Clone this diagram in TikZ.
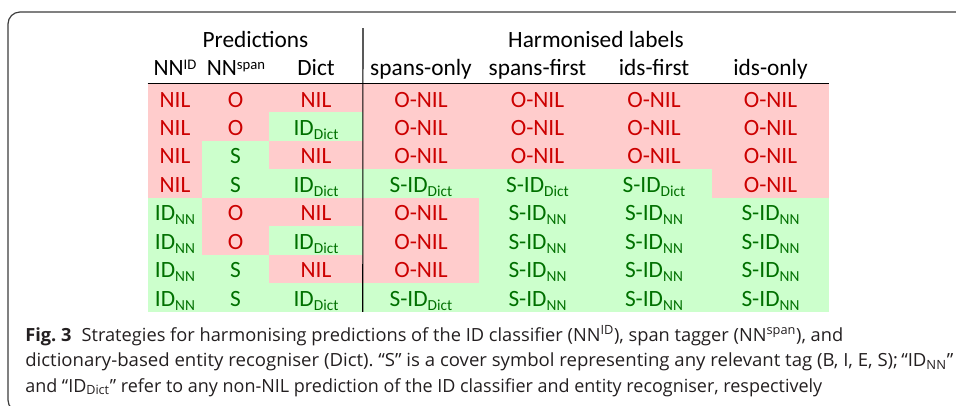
\documentclass[tikz,border=0pt]{standalone}
\usepackage{fontspec}
\usepackage{graphicx}
\setmainfont{Carlito}
\newfontfamily\captionfont{Open Sans}

\definecolor{nilbg}{HTML}{FFCCCC}
\definecolor{idbg}{HTML}{CCFFCC}
\definecolor{niltxt}{HTML}{CC0000}
\definecolor{idtxt}{HTML}{007000}
\definecolor{captxt}{HTML}{231F20}
\definecolor{framegray}{HTML}{3C3C3C}

% small lowered / raised labels inside the table
\newcommand{\lowtag}[1]{\raisebox{-3pt}{\fontsize{11.5pt}{12pt}\selectfont #1}}
\newcommand{\hightag}[1]{\raisebox{4.8pt}{\fontsize{11pt}{12pt}\selectfont #1}}

% one caption line, squeezed horizontally to a given width (in px)
\newlength\caplen
\newcommand{\capline}[2]{%
  \settowidth{\caplen}{#2}%
  \scalebox{\fpeval{#1*0.75/(\the\caplen)}}[1]{#2}}

% one table cell: name, left x, right x, row, style, text
\newcommand{\cellat}[6]{%
  \node[#5, minimum width={(#3-#2)*0.75pt}] (#1)
    at ({(#2+#3)/2}, {84+28.4375*(#4-0.5)}) {#6};}

\tikzset{
  cellbox/.style={inner sep=0pt, minimum height=21.33pt,
    text height=15pt, text depth=1.8pt,
    font=\fontsize{17.5pt}{20pt}\selectfont},
  nilcell/.style={cellbox, fill=nilbg, text=niltxt},
  idcell/.style={cellbox, fill=idbg, text=idtxt},
  headtext/.style={font=\fontsize{17.5pt}{20pt}\selectfont,
    inner sep=0pt, anchor=base},
  captext/.style={font=\captionfont\fontsize{13.6pt}{16pt}\selectfont\frenchspacing,
    text=captxt, inner sep=0pt, anchor=base west},
}

\begin{document}
\begin{tikzpicture}[x=0.75pt, y=-0.75pt]
\useasboundingbox (0,0) rectangle (956,405);

% outer frame, open to the right and below
\draw[framegray, line width=0.9pt, rounded corners=9pt]
  (990,12) -- (8,12) -- (8,412) -- (990,412);

% group headings
\node[headtext] (pred) at (255.5,47) {Predictions};
\node[headtext] (harm) at (596,47) {Harmonised labels};

% column headings
\node[headtext] (hnnid)   at (175,75.5)   {NN\hightag{ID}};
\node[headtext] (hnnspan) at (236,75.5)   {NN\hightag{span}};
\node[headtext] (hdict)   at (316,75.5)   {Dict};
\node[headtext] (hso)     at (421,75.5)   {spans-only};
\node[headtext] (hsf)     at (537.5,75.5) {spans-first};
\node[headtext] (hif)     at (654,75.5)   {ids-first};
\node[headtext] (hio)     at (770.5,75.5) {ids-only};

% row 1
\cellat{c11}{148}{202}{1}{nilcell}{NIL}
\cellat{c12}{202}{269}{1}{nilcell}{O}
\cellat{c13}{269}{363}{1}{nilcell}{NIL}
\cellat{c14}{363}{479}{1}{nilcell}{O-NIL}
\cellat{c15}{479}{596}{1}{nilcell}{O-NIL}
\cellat{c16}{596}{712}{1}{nilcell}{O-NIL}
\cellat{c17}{712}{829}{1}{nilcell}{O-NIL}
% row 2
\cellat{c21}{148}{202}{2}{nilcell}{NIL}
\cellat{c22}{202}{269}{2}{nilcell}{O}
\cellat{c23}{269}{363}{2}{idcell}{ID\lowtag{Dict}}
\cellat{c24}{363}{479}{2}{nilcell}{O-NIL}
\cellat{c25}{479}{596}{2}{nilcell}{O-NIL}
\cellat{c26}{596}{712}{2}{nilcell}{O-NIL}
\cellat{c27}{712}{829}{2}{nilcell}{O-NIL}
% row 3
\cellat{c31}{148}{202}{3}{nilcell}{NIL}
\cellat{c32}{202}{269}{3}{idcell}{S}
\cellat{c33}{269}{363}{3}{nilcell}{NIL}
\cellat{c34}{363}{479}{3}{nilcell}{O-NIL}
\cellat{c35}{479}{596}{3}{nilcell}{O-NIL}
\cellat{c36}{596}{712}{3}{nilcell}{O-NIL}
\cellat{c37}{712}{829}{3}{nilcell}{O-NIL}
% row 4
\cellat{c41}{148}{202}{4}{nilcell}{NIL}
\cellat{c42}{202}{269}{4}{idcell}{S}
\cellat{c43}{269}{363}{4}{idcell}{ID\lowtag{Dict}}
\cellat{c44}{363}{479}{4}{idcell}{S-ID\lowtag{Dict}}
\cellat{c45}{479}{596}{4}{idcell}{S-ID\lowtag{Dict}}
\cellat{c46}{596}{712}{4}{idcell}{S-ID\lowtag{Dict}}
\cellat{c47}{712}{829}{4}{nilcell}{O-NIL}
% row 5
\cellat{c51}{148}{202}{5}{idcell}{ID\lowtag{NN}}
\cellat{c52}{202}{269}{5}{nilcell}{O}
\cellat{c53}{269}{363}{5}{nilcell}{NIL}
\cellat{c54}{363}{479}{5}{nilcell}{O-NIL}
\cellat{c55}{479}{596}{5}{idcell}{S-ID\lowtag{NN}}
\cellat{c56}{596}{712}{5}{idcell}{S-ID\lowtag{NN}}
\cellat{c57}{712}{829}{5}{idcell}{S-ID\lowtag{NN}}
% row 6
\cellat{c61}{148}{202}{6}{idcell}{ID\lowtag{NN}}
\cellat{c62}{202}{269}{6}{nilcell}{O}
\cellat{c63}{269}{363}{6}{idcell}{ID\lowtag{Dict}}
\cellat{c64}{363}{479}{6}{nilcell}{O-NIL}
\cellat{c65}{479}{596}{6}{idcell}{S-ID\lowtag{NN}}
\cellat{c66}{596}{712}{6}{idcell}{S-ID\lowtag{NN}}
\cellat{c67}{712}{829}{6}{idcell}{S-ID\lowtag{NN}}
% row 7
\cellat{c71}{148}{202}{7}{idcell}{ID\lowtag{NN}}
\cellat{c72}{202}{269}{7}{idcell}{S}
\cellat{c73}{269}{363}{7}{nilcell}{NIL}
\cellat{c74}{363}{479}{7}{nilcell}{O-NIL}
\cellat{c75}{479}{596}{7}{idcell}{S-ID\lowtag{NN}}
\cellat{c76}{596}{712}{7}{idcell}{S-ID\lowtag{NN}}
\cellat{c77}{712}{829}{7}{idcell}{S-ID\lowtag{NN}}
% row 8
\cellat{c81}{148}{202}{8}{idcell}{ID\lowtag{NN}}
\cellat{c82}{202}{269}{8}{idcell}{S}
\cellat{c83}{269}{363}{8}{idcell}{ID\lowtag{Dict}}
\cellat{c84}{363}{479}{8}{idcell}{S-ID\lowtag{Dict}}
\cellat{c85}{479}{596}{8}{idcell}{S-ID\lowtag{NN}}
\cellat{c86}{596}{712}{8}{idcell}{S-ID\lowtag{NN}}
\cellat{c87}{712}{829}{8}{idcell}{S-ID\lowtag{NN}}

% rules
\draw[line width=0.8pt] (c11.north west) -- (c17.north east);
\coordinate (vtop) at (363,28);
\draw[line width=0.8pt] (vtop) -- (c84.south west);

% caption
\node[captext] (cap1) at (25,341)
  {\capline{818}{\textbf{Fig. 3}\hspace{0.55em}Strategies for harmonising predictions of the ID classifier (NN\textsuperscript{ID}), span tagger (NN\textsuperscript{span}), and}};
\node[captext] (cap2) at (25,366.5)
  {\capline{928}{dictionary-based entity recogniser (Dict). “S” is a cover symbol representing any relevant tag (B, I, E, S);\,“ID\textsubscript{NN}”}};
\node[captext] (cap3) at (25,392)
  {\capline{797}{and “ID\textsubscript{Dict}” refer to any non-NIL prediction of the ID classifier and entity recogniser, respectively}};
\end{tikzpicture}
\end{document}
